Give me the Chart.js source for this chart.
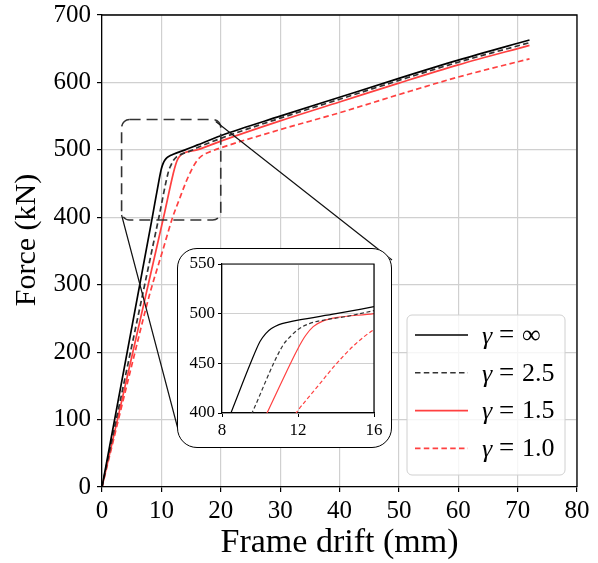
<!DOCTYPE html>
<html>
<head>
<meta charset="utf-8">
<script src="https://cdn.jsdelivr.net/npm/chart.js@4.4.0/dist/chart.umd.min.js"></script>
<style>
body{margin:0;background:#fff;}
#wrap{position:relative;width:598px;height:563px;}
#inset{position:absolute;left:177px;top:248px;width:215px;height:200px;background:#fff;border-radius:20px;overflow:hidden;}
#insetBorder{position:absolute;left:177px;top:248px;width:215px;height:200px;border:1.5px solid #000;border-radius:20px;box-sizing:border-box;pointer-events:none;}
</style>
</head>
<body>
<div id="wrap">
  <canvas id="main" width="598" height="563"></canvas>
  <div id="inset"><canvas id="zoom" width="215" height="200"></canvas></div>
  <div id="insetBorder"></div>
</div>
<script>
var SERIF = "'Liberation Serif', 'Times New Roman', serif";

// gamma = inf
var drift_inf = [0, 8.47, 9.5, 10.0, 10.3, 10.6, 11.0, 11.5, 12, 14, 16, 20, 30, 40, 50, 60, 72];
var force_inf = [0, 400, 450, 472, 480, 485, 489, 491.5, 493.5, 500, 507, 521, 550, 578, 606, 633, 663];
// gamma = 2.5
var drift_25 = [0, 9.58, 11.2, 11.6, 12.0, 12.6, 13.5, 14.5, 16, 20, 30, 40, 50, 60, 72];
var force_25 = [0, 400, 468, 477, 484, 490, 494, 497, 503, 517, 547, 575, 603, 630, 659];
// gamma = 1.5
var drift_15 = [0, 10.37, 12.0, 12.4, 12.8, 13.3, 14, 16, 20, 30, 40, 50, 60, 72];
var force_15 = [0, 400, 465, 478, 487, 492.5, 496, 500, 513, 543, 571, 599, 626, 655];
// gamma = 1.0
var drift_10 = [0, 5, 8, 10.2, 11.9, 13, 14.04, 15, 16, 16.8, 18, 20, 30, 40, 50, 60, 72];
var force_10 = [0, 180, 285, 350, 400, 426, 450, 469, 484, 491, 496.5, 503, 530, 555, 582, 608, 635];

var gammaLabels = ['\u221e', '2.5', '1.5', '1.0'];

// dashed zoom window drawn on the main plot
var zoomBox = {x0: 3.3, x1: 20, y0: 396, y1: 545};

function pts(xs, ys) {
  return xs.map(function(x, i) { return {x: x, y: ys[i]}; });
}

function makeSets(w, dash) {
  return [
    {label: gammaLabels[0], data: pts(drift_inf, force_inf), borderColor: '#000', borderWidth: w, borderDash: []},
    {label: gammaLabels[1], data: pts(drift_25, force_25), borderColor: '#333', borderWidth: w, borderDash: dash},
    {label: gammaLabels[2], data: pts(drift_15, force_15), borderColor: '#ff4040', borderWidth: w, borderDash: []},
    {label: gammaLabels[3], data: pts(drift_10, force_10), borderColor: '#ff4040', borderWidth: w, borderDash: dash}
  ].map(function(d) {
    d.pointRadius = 0;
    d.fill = false;
    d.cubicInterpolationMode = 'monotone';
    return d;
  });
}

// no extra room for tick labels: keep the plot area where the layout puts it
function fitY(w) {
  return function(s) { s.width = w; s.paddingTop = 0; s.paddingBottom = 0; };
}
function fitX(h) {
  return function(s) { s.height = h; s.paddingLeft = 0; s.paddingRight = 0; };
}

var mainExtras = {
  id: 'mainExtras',
  afterDatasetsDraw: function(chart) {
    var ctx = chart.ctx, a = chart.chartArea;
    var sx = chart.scales.x, sy = chart.scales.y;
    ctx.save();
    ctx.strokeStyle = '#000';
    ctx.lineWidth = 1.3;
    ctx.beginPath();
    ctx.moveTo(a.left, a.top);
    ctx.lineTo(a.right, a.top);
    ctx.lineTo(a.right, a.bottom);
    ctx.stroke();

    var x0 = sx.getPixelForValue(zoomBox.x0), x1 = sx.getPixelForValue(zoomBox.x1);
    var y0 = sy.getPixelForValue(zoomBox.y0), y1 = sy.getPixelForValue(zoomBox.y1);
    ctx.setLineDash([11, 6]);
    ctx.strokeStyle = '#333';
    ctx.lineWidth = 1.6;
    ctx.beginPath();
    ctx.roundRect(x0, y1, x1 - x0, y0 - y1, 8);
    ctx.stroke();

    // connector lines to the inset (inset covers their ends)
    var box = document.getElementById('inset');
    var bl = box.offsetLeft, bt = box.offsetTop, bw = box.offsetWidth, bh = box.offsetHeight;
    ctx.setLineDash([]);
    ctx.strokeStyle = '#111';
    ctx.lineWidth = 1.2;
    ctx.beginPath();
    ctx.moveTo(x1 - 5, y1 + 2);
    ctx.lineTo(bl + bw, bt + 12);
    ctx.moveTo(x0, y0 - 5);
    ctx.lineTo(bl + 2, bt + bh - 15);
    ctx.stroke();
    ctx.restore();
  },
  afterDraw: function(chart) {
    var ctx = chart.ctx, a = chart.chartArea;
    ctx.save();
    // y title
    ctx.translate(27, 240);
    ctx.rotate(-Math.PI / 2);
    ctx.font = '30px ' + SERIF;
    ctx.fillStyle = '#000';
    ctx.textAlign = 'center';
    ctx.textBaseline = 'middle';
    ctx.fillText('Force (kN)', 0, 0);
    ctx.restore();

    // legend
    var lw = 158, lh = 160;
    var lx = a.right - 12 - lw, ly = a.bottom - 12 - lh;
    ctx.save();
    ctx.beginPath();
    ctx.roundRect(lx, ly, lw, lh, 5);
    ctx.fillStyle = 'rgba(255,255,255,0.8)';
    ctx.fill();
    ctx.strokeStyle = '#d0d0d0';
    ctx.lineWidth = 1;
    ctx.stroke();
    chart.data.datasets.forEach(function(ds, i) {
      var ry = ly + 20 + i * 37.8;
      ctx.strokeStyle = ds.borderColor;
      ctx.lineWidth = 1.6;
      ctx.setLineDash(ds.borderDash);
      ctx.beginPath();
      ctx.moveTo(lx + 8, ry);
      ctx.lineTo(lx + 61, ry);
      ctx.stroke();
      ctx.setLineDash([]);
      ctx.fillStyle = '#000';
      ctx.textBaseline = 'middle';
      ctx.textAlign = 'left';
      ctx.font = 'italic 26px ' + SERIF;
      ctx.fillText('\u03b3', lx + 75, ry + 2);
      ctx.font = '27px ' + SERIF;
      ctx.fillText('=', lx + 92, ry + 1);
      ctx.font = '26px ' + SERIF;
      ctx.fillText(ds.label, lx + 115, ry + 1);
    });
    ctx.restore();
  }
};

var mainChart = new Chart(document.getElementById('main'), {
  type: 'line',
  data: {datasets: makeSets(1.7, [5.5, 3.3])},
  options: {
    responsive: false,
    animation: false,
    layout: {padding: {left: 0, top: 15, right: 21, bottom: 0}},
    plugins: {legend: {display: false}, tooltip: {enabled: false}},
    scales: {
      x: {
        type: 'linear', min: 0, max: 80,
        afterFit: fitX(76),
        ticks: {stepSize: 10, color: '#000', padding: 4, font: {family: SERIF, size: 25}},
        grid: {color: '#d0d0d0', lineWidth: 1.2, tickLength: 5, tickColor: '#000', tickWidth: 1.2},
        border: {color: '#000', width: 1.3},
        title: {display: true, text: 'Frame drift (mm)', color: '#000', padding: {top: 0, bottom: 0}, font: {family: SERIF, size: 34}}
      },
      y: {
        min: 0, max: 700,
        afterFit: fitY(102),
        ticks: {stepSize: 100, color: '#000', padding: 6, font: {family: SERIF, size: 25}},
        grid: {color: '#d0d0d0', lineWidth: 1.2, tickLength: 5, tickColor: '#000', tickWidth: 1.2},
        border: {color: '#000', width: 1.3}
      }
    }
  },
  plugins: [mainExtras]
});

var insetSpines = {
  id: 'insetSpines',
  afterDatasetsDraw: function(chart) {
    var ctx = chart.ctx, a = chart.chartArea;
    ctx.save();
    ctx.strokeStyle = '#000';
    ctx.lineWidth = 1.2;
    ctx.beginPath();
    ctx.moveTo(a.left, a.top);
    ctx.lineTo(a.right, a.top);
    ctx.lineTo(a.right, a.bottom);
    ctx.stroke();
    ctx.restore();
  }
};

var zoomChart = new Chart(document.getElementById('zoom'), {
  type: 'line',
  data: {datasets: makeSets(1.2, [4, 2.5])},
  options: {
    responsive: false,
    animation: false,
    layout: {padding: {left: 0, top: 16, right: 18, bottom: 0}},
    plugins: {legend: {display: false}, tooltip: {enabled: false}},
    scales: {
      x: {
        type: 'linear', min: 8, max: 16,
        afterFit: fitX(35),
        ticks: {stepSize: 4, color: '#000', padding: 3, font: {family: SERIF, size: 17}},
        grid: {color: '#d0d0d0', lineWidth: 1, tickLength: 4, tickColor: '#000'},
        border: {color: '#000', width: 1.2}
      },
      y: {
        min: 400, max: 550,
        afterFit: fitY(45),
        ticks: {stepSize: 50, color: '#000', padding: 3, font: {family: SERIF, size: 17}},
        grid: {color: '#d0d0d0', lineWidth: 1, tickLength: 4, tickColor: '#000'},
        border: {color: '#000', width: 1.2}
      }
    }
  },
  plugins: [insetSpines]
});
</script>
</body>
</html>
